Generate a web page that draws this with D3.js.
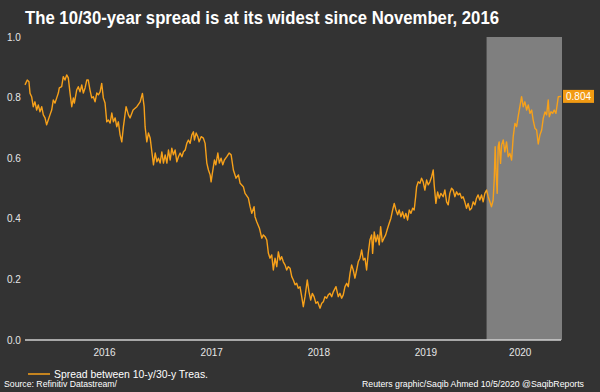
<!DOCTYPE html>
<html>
<head>
<meta charset="utf-8">
<script src="https://cdn.jsdelivr.net/npm/d3@7"></script>
<style>
  body { margin: 0; background: #333333; }
  svg { display: block; }
  text { font-family: "Liberation Sans", Arial, sans-serif; }
</style>
</head>
<body>
<svg id="chart" width="600" height="392"></svg>
<script>
// 10-year / 30-year Treasury spread.
// Dates are kept as decimal years, values in percentage points.
const years = [
  2015.759,2015.780,2015.796,2015.806,2015.821,2015.836,2015.852,2015.868,2015.883,2015.899,
  2015.915,2015.930,2015.946,2015.961,2015.976,2015.992,2016.008,2016.023,2016.039,2016.055,
  2016.070,2016.079,2016.101,2016.116,2016.132,2016.148,2016.163,2016.179,2016.195,2016.210,
  2016.219,2016.241,2016.256,2016.272,2016.288,2016.303,2016.319,2016.335,2016.349,2016.365,
  2016.381,2016.396,2016.412,2016.428,2016.443,2016.459,2016.474,2016.489,2016.505,2016.521,
  2016.536,2016.552,2016.568,2016.583,2016.599,2016.614,2016.629,2016.645,2016.661,2016.676,
  2016.701,2016.723,2016.738,2016.766,2016.801,2016.832,2016.853,2016.869,2016.878,2016.894,
  2016.909,2016.925,2016.941,2016.956,2016.972,2016.988,2017.002,2017.018,2017.034,2017.049,
  2017.065,2017.081,2017.096,2017.112,2017.127,2017.142,2017.158,2017.174,2017.189,2017.205,
  2017.221,2017.236,2017.252,2017.267,2017.282,2017.298,2017.314,2017.329,2017.338,2017.354,
  2017.370,2017.382,2017.401,2017.422,2017.438,2017.454,2017.469,2017.485,2017.494,2017.506,
  2017.525,2017.538,2017.557,2017.571,2017.587,2017.603,2017.618,2017.641,2017.662,2017.681,
  2017.702,2017.727,2017.749,2017.765,2017.795,2017.811,2017.842,2017.858,2017.874,2017.895,
  2017.904,2017.920,2017.945,2017.967,2017.982,2017.998,2018.014,2018.029,2018.044,2018.060,
  2018.075,2018.091,2018.107,2018.122,2018.138,2018.153,2018.168,2018.184,2018.200,2018.215,
  2018.231,2018.247,2018.262,2018.278,2018.293,2018.308,2018.324,2018.340,2018.355,2018.371,
  2018.392,2018.408,2018.424,2018.439,2018.455,2018.473,2018.489,2018.511,2018.527,2018.542,
  2018.557,2018.573,2018.588,2018.604,2018.620,2018.635,2018.660,2018.681,2018.697,2018.713,
  2018.728,2018.744,2018.760,2018.775,2018.791,2018.806,2018.821,2018.837,2018.853,2018.868,
  2018.884,2018.900,2018.915,2018.931,2018.946,2018.961,2018.977,2018.993,2019.002,2019.017,
  2019.033,2019.049,2019.064,2019.077,2019.092,2019.108,2019.124,2019.142,2019.157,2019.173,
  2019.189,2019.204,2019.220,2019.236,2019.250,2019.266,2019.282,2019.297,2019.313,2019.329,
  2019.344,2019.360,2019.376,2019.390,2019.404,2019.413,2019.428,2019.444,2019.459,2019.474,
  2019.490,2019.506,2019.521,2019.537,2019.553,2019.568,2019.577,2019.593,2019.609,2019.624,
  2019.639,2019.661,2019.677,2019.693,2019.708,2019.723,2019.739,2019.754,2019.770,2019.786,
  2019.801,2019.817,2019.833,2019.847,2019.863,2019.879,2019.894,2019.910,2019.926,2019.941,
  2019.957,2019.972,2019.987,2020.003,2020.019,2020.034,2020.050,2020.066,2020.081,2020.097,
  2020.112,2020.127,2020.137,2020.146,2020.155,2020.165,2020.174,2020.183,2020.196,2020.206,
  2020.221,2020.236,2020.252,2020.267,2020.283,2020.299,2020.314,2020.330,2020.346,2020.360,
  2020.376,2020.392,2020.407,2020.423,2020.439,2020.454,2020.470,2020.486,2020.500,2020.516,
  2020.532,2020.547,2020.563,2020.579,2020.594,2020.610,2020.625,2020.640,2020.650,2020.666,
  2020.681,2020.696,2020.712,2020.734,2020.759
];

const spread = [
  0.842,0.858,0.852,0.814,0.803,0.770,0.786,0.759,0.776,0.753,
  0.770,0.743,0.733,0.710,0.726,0.743,0.759,0.792,0.782,0.799,
  0.815,0.832,0.836,0.869,0.858,0.875,0.865,0.815,0.770,0.799,
  0.782,0.825,0.836,0.819,0.842,0.815,0.832,0.858,0.858,0.825,
  0.799,0.803,0.786,0.815,0.809,0.819,0.847,0.799,0.782,0.720,
  0.726,0.716,0.749,0.720,0.733,0.704,0.720,0.677,0.654,0.704,
  0.770,0.743,0.733,0.759,0.770,0.786,0.814,0.770,0.704,0.654,
  0.683,0.667,0.621,0.578,0.617,0.588,0.600,0.584,0.621,0.584,
  0.611,0.584,0.627,0.594,0.633,0.611,0.627,0.588,0.605,0.617,
  0.605,0.621,0.627,0.649,0.660,0.649,0.677,0.687,0.660,0.683,
  0.671,0.654,0.671,0.666,0.649,0.584,0.561,0.545,0.522,0.551,
  0.594,0.578,0.617,0.584,0.600,0.578,0.594,0.605,0.617,0.611,
  0.561,0.534,0.545,0.517,0.506,0.484,0.468,0.440,0.418,0.440,
  0.407,0.390,0.369,0.336,0.347,0.341,0.330,0.286,0.270,0.281,
  0.231,0.270,0.242,0.291,0.264,0.275,0.258,0.248,0.231,0.242,
  0.237,0.209,0.198,0.182,0.187,0.171,0.176,0.143,0.110,0.143,
  0.198,0.159,0.132,0.154,0.143,0.121,0.126,0.105,0.121,0.126,
  0.143,0.138,0.149,0.154,0.143,0.159,0.176,0.143,0.154,0.138,
  0.149,0.176,0.187,0.176,0.220,0.248,0.231,0.204,0.231,0.258,
  0.270,0.297,0.264,0.270,0.231,0.286,0.330,0.347,0.286,0.357,
  0.324,0.347,0.314,0.374,0.324,0.336,0.347,0.369,0.385,0.402,
  0.429,0.451,0.429,0.413,0.429,0.407,0.423,0.402,0.418,0.396,
  0.429,0.418,0.435,0.429,0.473,0.506,0.522,0.517,0.534,0.522,
  0.495,0.528,0.512,0.522,0.539,0.561,0.512,0.451,0.489,0.468,
  0.484,0.473,0.495,0.456,0.446,0.484,0.501,0.495,0.473,0.489,
  0.479,0.484,0.468,0.473,0.456,0.435,0.451,0.429,0.435,0.456,
  0.446,0.468,0.479,0.462,0.479,0.456,0.484,0.495,0.473,0.456,
  0.440,0.462,0.528,0.638,0.550,0.484,0.638,0.654,0.583,0.644,
  0.660,0.621,0.654,0.605,0.616,0.594,0.671,0.715,0.704,0.737,
  0.770,0.803,0.770,0.786,0.759,0.776,0.748,0.759,0.726,0.699,
  0.693,0.647,0.677,0.693,0.732,0.753,0.743,0.792,0.737,0.753,
  0.748,0.759,0.748,0.803,0.804
];

const yearLabels = [2016, 2017, 2018, 2019, 2020];
const yTicks = [0, 0.2, 0.4, 0.6, 0.8, 1.0];
const shadedPeriod = [2020.066, 2020.759];   // highlighted stretch since late January 2020

const TITLE = 'The 10/30-year spread is at its widest since November, 2016';
const LEGEND = 'Spread between 10-y/30-y Treas.';
const SOURCE = 'Source: Refinitiv Datastream/';
const CREDIT = 'Reuters graphic/Saqib Ahmed 10/5/2020 @SaqibReports';

const colors = {
    background: '#333333',
    shade: '#7f7f7f',
    line: '#f7a11a',
    text: '#e6e6e6',
    axis: '#d0d0d0'
};

// decimal year -> Date
function toDate(y) {
    const yr = Math.floor(y);
    const start = new Date(yr, 0, 1), end = new Date(yr + 1, 0, 1);
    return new Date(+start + (y - yr) * (end - start));
}

const data = years.map((y, i) => ({ date: toDate(y), value: spread[i] }));

const svg = d3.select('#chart');
svg.append('rect').attr('width', 600).attr('height', 392).attr('fill', colors.background);

const start = toDate(years[0]), end = toDate(years[years.length - 1]);
const x = d3.scaleTime().domain([start, end]).range([25, 561]);
const y = d3.scaleLinear().domain([0, 1]).range([340, 37]);

// shaded period
svg.append('rect')
    .attr('x', x(toDate(shadedPeriod[0])))
    .attr('y', y(1))
    .attr('width', x(toDate(shadedPeriod[1])) - x(toDate(shadedPeriod[0])) + 1)
    .attr('height', y(0) - y(1))
    .attr('fill', colors.shade);

// y axis labels, no gridlines
svg.append('g').selectAll('text')
    .data(yTicks)
    .join('text')
    .attr('x', 7)
    .attr('y', d => y(d))
    .attr('dy', '0.35em')
    .attr('font-size', 10)
    .attr('fill', colors.text)
    .text(d3.format('.1f'));

// baseline
svg.append('line')
    .attr('x1', 25).attr('x2', x(end))
    .attr('y1', y(0)).attr('y2', y(0))
    .attr('stroke', colors.axis)
    .attr('stroke-width', 1.5);

// year labels centred on the visible part of each year
svg.append('g').selectAll('text')
    .data(yearLabels)
    .join('text')
    .attr('x', d => {
        const a = d3.max([new Date(d, 0, 1), start]);
        const b = d3.min([new Date(d + 1, 0, 1), end]);
        return (x(a) + x(b)) / 2;
    })
    .attr('y', 356)
    .attr('text-anchor', 'middle')
    .attr('font-size', 10)
    .attr('fill', colors.text)
    .text(d => d);

// the spread
svg.append('path')
    .datum(data)
    .attr('fill', 'none')
    .attr('stroke', colors.line)
    .attr('stroke-width', 1.4)
    .attr('stroke-linejoin', 'round')
    .attr('d', d3.line().x(d => x(d.date)).y(d => y(d.value)));

// last value flag
const last = data[data.length - 1];
const flag = svg.append('g')
    .attr('transform', `translate(${x(last.date) + 2},${y(last.value)})`);
flag.append('rect')
    .attr('x', 0).attr('y', -6.5)
    .attr('width', 31).attr('height', 13)
    .attr('fill', '#f29a12');
flag.append('text')
    .attr('x', 15.5).attr('dy', '0.35em')
    .attr('text-anchor', 'middle')
    .attr('font-size', 10)
    .attr('fill', '#ffffff')
    .text(d3.format('.3f')(last.value));

// title
svg.append('text')
    .attr('x', 25).attr('y', 24)
    .attr('font-size', 18)
    .attr('font-weight', 'bold')
    .attr('fill', '#ffffff')
    .attr('textLength', 474)
    .attr('lengthAdjust', 'spacingAndGlyphs')
    .text(TITLE);

// legend
svg.append('line')
    .attr('x1', 28).attr('x2', 50)
    .attr('y1', 374).attr('y2', 374)
    .attr('stroke', colors.line)
    .attr('stroke-width', 1.5);
svg.append('text')
    .attr('x', 54).attr('y', 377.5)
    .attr('font-size', 11)
    .attr('fill', '#ffffff')
    .attr('textLength', 154)
    .attr('lengthAdjust', 'spacingAndGlyphs')
    .text(LEGEND);

// footer
svg.append('text')
    .attr('x', 4).attr('y', 387)
    .attr('font-size', 9)
    .attr('fill', '#ffffff')
    .attr('textLength', 113)
    .attr('lengthAdjust', 'spacingAndGlyphs')
    .text(SOURCE);
svg.append('text')
    .attr('x', 362).attr('y', 387)
    .attr('font-size', 9)
    .attr('fill', '#ffffff')
    .attr('textLength', 222)
    .attr('lengthAdjust', 'spacingAndGlyphs')
    .text(CREDIT);
</script>
</body>
</html>
